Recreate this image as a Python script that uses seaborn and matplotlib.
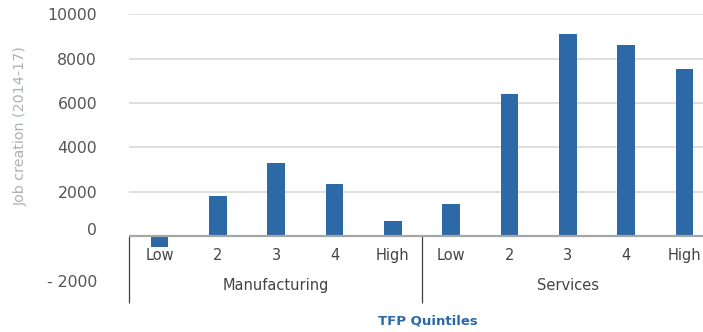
import matplotlib
matplotlib.use("Agg")
import matplotlib.pyplot as plt
import matplotlib.transforms as mtransforms
import seaborn as sns
import pandas as pd

# Job creation 2014-17 by TFP quintile, split by sector
sectors = ["Manufacturing", "Services"]
quintiles = ["Low", "2", "3", "4", "High"]
manufacturing_jobs = [-480, 1800, 3300, 2350, 680]
services_jobs = [1450, 6400, 9100, 8600, 7550]
y_ticks = [-2000, 0, 2000, 4000, 6000, 8000, 10000]
y_tick_labels = ["- 2000", "0", "2000", "4000", "6000", "8000", "10000"]

rows = []
for sector, values in zip(sectors, [manufacturing_jobs, services_jobs]):
    for q, v in zip(quintiles, values):
        rows.append({"sector": sector, "quintile": q, "key": f"{sector}|{q}", "jobs": v})
df = pd.DataFrame(rows)
order = list(df["key"])

sns.set_theme(style="white")
plt.rcParams["font.family"] = ["DejaVu Sans"]

W, H = 703, 332
fig = plt.figure(figsize=(W / 100, H / 100), dpi=100)
left_px, right_px = 129, 703
top_px, bottom_px = 14.3, 280.6
ax = fig.add_axes([left_px / W, 1 - bottom_px / H, (right_px - left_px) / W, (bottom_px - top_px) / H])

bar_color = "#2c69a6"
sns.barplot(data=df, x="key", y="jobs", order=order, color=bar_color,
            width=0.30, saturation=1, linewidth=0, ax=ax, zorder=3)

ax.set_xlim(-0.523, 9.318)
ax.set_ylim(-2000, 10000)
for s in ax.spines.values():
    s.set_visible(False)

# horizontal gridlines above zero, axis line at zero
for v in y_ticks:
    if v > 0:
        ax.axhline(v, color="#d9d9d9", lw=1.2, zorder=1)
ax.axhline(0, color="#a6a6a6", lw=1.6, zorder=4)

ax.set_yticks(y_ticks)
ax.set_yticklabels(y_tick_labels)
ax.tick_params(axis="y", length=0, pad=23, labelsize=11.3, labelcolor="#555555")
for lab in ax.get_yticklabels():
    if lab.get_text() == "0":
        lab.set_transform(lab.get_transform() +
                          mtransforms.ScaledTranslation(0, 7 / 100, fig.dpi_scale_trans))

ax.set_xticks([])
ax.set_xlabel("")
ax.set_ylabel("Job creation (2014-17)", color="#a9b1b8", fontsize=10.3, labelpad=0)
ax.yaxis.set_label_coords(-101 / (right_px - left_px), 0.58)

# quintile labels under each bar
for i, key in enumerate(order):
    ax.text(i, -860, df.loc[i, "quintile"], ha="center", va="center",
            fontsize=10.5, color="#444444", clip_on=False)

# sector group labels and separators
for g, sector in enumerate(sectors):
    ax.text(g * 5 + 2, -2210, sector, ha="center", va="center",
            fontsize=10.5, color="#444444", clip_on=False)
ax.vlines([-0.523, 4.5, 9.5], -3030, 0, colors="#404040", lw=0.9, clip_on=False)

fig.text(428 / W, 1 - 321 / H, "TFP Quintiles", ha="center", va="center",
         fontsize=9.5, fontweight="bold", color="#2c69a6")

fig.savefig("out.png", dpi=100)
